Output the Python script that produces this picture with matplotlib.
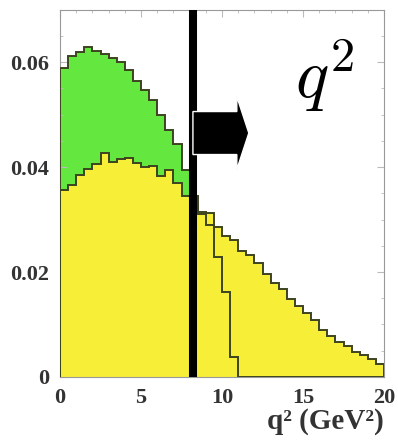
import matplotlib.pyplot as plt
from matplotlib.patches import FancyArrow
import numpy as np

plt.rcParams['mathtext.fontset'] = 'cm'

# bin edges, 0.5 GeV^2 wide
edges = np.arange(0, 20.01, 0.5)

# green histogram (ends near 11 GeV^2)
green = [0.0589, 0.0612, 0.0620, 0.0630, 0.0622, 0.0615, 0.0608, 0.0600,
         0.0585, 0.0565, 0.0548, 0.0528, 0.0500, 0.0470, 0.0445, 0.0395,
         0.0345, 0.0310, 0.0290, 0.0229, 0.0162, 0.0038] + [0.0] * 18

# yellow histogram
yellow = [0.0356, 0.0365, 0.0385, 0.0396, 0.0406, 0.0427, 0.0410, 0.0415,
          0.0418, 0.0408, 0.0400, 0.0403, 0.0383, 0.0395, 0.0370, 0.0345,
          0.0330, 0.0314, 0.0312, 0.0285, 0.0268, 0.0262, 0.0240, 0.0232,
          0.0218, 0.0196, 0.0180, 0.0168, 0.0148, 0.0135, 0.0122, 0.0108,
          0.0090, 0.0078, 0.0066, 0.0058, 0.0048, 0.0042, 0.0034, 0.0024]

cut = 8.2
xticks = [0, 5, 10, 15, 20]
yticks = [0, 0.02, 0.04, 0.06]
yticklabels = ["0", "0.02", "0.04", "0.06"]

green_c = "#64e840"
yellow_c = "#f7ee38"
edge_c = "#3c4420"

fig = plt.figure(figsize=(3.98, 4.45), dpi=100)
ax = fig.add_axes([0.151, 0.153, 0.814, 0.825])

ax.stairs(green, edges, fill=True, color=green_c, zorder=1)
ax.stairs(yellow, edges, fill=True, color=yellow_c, zorder=2)
ax.stairs(green, edges, color=edge_c, lw=1.4, zorder=3)
ax.stairs(yellow, edges, color=edge_c, lw=1.4, zorder=3)

ax.axvline(cut, color="black", lw=5.8, zorder=4)
ax.add_patch(FancyArrow(cut, 0.0465, 3.45, 0, width=0.0082, head_width=0.0139,
                        head_length=0.74, length_includes_head=True,
                        fc="black", ec="white", lw=1, zorder=5))
ax.text(16.35, 0.0575, r"$q^2$", fontsize=50, ha="center", va="center")

ax.set_xlim(0, 20)
ax.set_ylim(0, 0.07)
ax.set_xticks(xticks)
ax.set_xticklabels([str(t) for t in xticks])
ax.set_yticks(yticks)
ax.set_yticklabels(yticklabels)
ax.minorticks_on()
ax.tick_params(which="both", direction="in", top=True, right=True,
               colors="#bbbbbb", labelcolor="#333333")
ax.tick_params(which="major", length=5, pad=8)
ax.tick_params(which="minor", length=2.5)
for lab in ax.get_xticklabels() + ax.get_yticklabels():
    lab.set_fontfamily("Liberation Serif")
    lab.set_fontweight("bold")
    lab.set_fontsize(16)
for s in ax.spines.values():
    s.set_color("#999999")

ax.set_xlabel("q² (GeV²)", loc="right", fontfamily="Liberation Serif",
              fontweight="bold", fontsize=21, color="#333333", labelpad=0)

fig.savefig("out.png", dpi=100)
